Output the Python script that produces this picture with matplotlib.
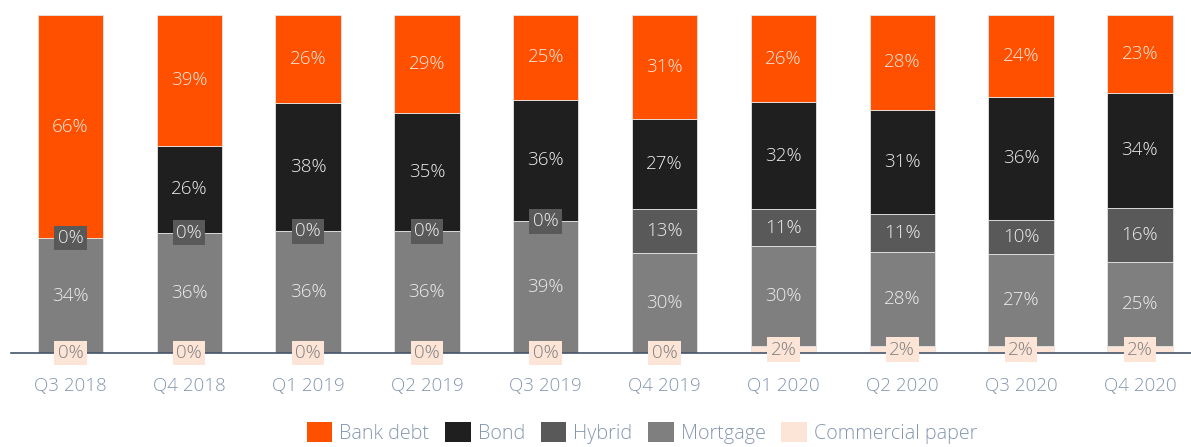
import matplotlib.pyplot as plt
from matplotlib.patches import Patch
import numpy as np

plt.rcParams['font.family'] = ['Open Sans', 'DejaVu Sans']

quarters = ['Q3 2018', 'Q4 2018', 'Q1 2019', 'Q2 2019', 'Q3 2019',
            'Q4 2019', 'Q1 2020', 'Q2 2020', 'Q3 2020', 'Q4 2020']
commercial_paper = [0, 0, 0, 0, 0, 0, 2, 2, 2, 2]
mortgage = [34, 36, 36, 36, 39, 30, 30, 28, 27, 25]
hybrid = [0, 0, 0, 0, 0, 13, 11, 11, 10, 16]
bond = [0, 26, 38, 35, 36, 27, 32, 31, 36, 34]
bank_debt = [66, 39, 26, 29, 25, 31, 26, 28, 24, 23]

series = [('Commercial paper', commercial_paper, '#fce4d6', '#7f7f7f'),
          ('Mortgage', mortgage, '#7f7f7f', '#eeeeee'),
          ('Hybrid', hybrid, '#595959', '#eeeeee'),
          ('Bond', bond, '#1f1f1f', '#eeeeee'),
          ('Bank debt', bank_debt, '#ff5000', '#fde9e0')]
label_z = {'Commercial paper': 6, 'Mortgage': 5, 'Hybrid': 8, 'Bond': 7, 'Bank debt': 5}

totals = np.sum([s[1] for s in series], axis=0)
x = np.arange(len(quarters))

fig = plt.figure(figsize=(11.91, 4.47), dpi=100)
ax = fig.add_axes([11 / 1191, 94 / 447, 1180 / 1191, 338 / 447])

bottom = np.zeros(len(quarters))
for name, vals, color, tcolor in series:
    h = np.array(vals) / totals * 100
    ax.bar(x, h, 0.55, bottom=bottom, color=color, edgecolor='#e6e6e6', linewidth=0.6)
    for xi, b, hi, v in zip(x, bottom, h, vals):
        ax.text(xi, b + hi / 2, '%d%%' % v, ha='center', va='center', fontsize=13.5,
                color=tcolor, fontweight='light', zorder=label_z[name],
                bbox=dict(boxstyle='square,pad=0.18', fc=color, ec='none'))
    bottom += h

ax.set_xlim(-0.5, 9.43)
ax.set_ylim(0, 100)
ax.set_xticks(x)
ax.set_xticklabels(quarters, fontsize=13.5, color='#8496b0', fontweight='light')
ax.tick_params(axis='x', length=0, pad=17)
ax.set_yticks([])
for side in ['top', 'right', 'left']:
    ax.spines[side].set_visible(False)
ax.spines['bottom'].set_color('#44546a')
ax.spines['bottom'].set_linewidth(1.2)
ax.spines['bottom'].set_zorder(4)

handles = [Patch(facecolor=s[2], label=s[0]) for s in reversed(series)]
leg = fig.legend(handles=handles, loc='center', bbox_to_anchor=(642 / 1191, 1 - 433 / 447),
                 ncol=5, frameon=False, fontsize=14.2, handlelength=1.3, handleheight=1.15,
                 handletextpad=0.35, columnspacing=0.8)
for t in leg.get_texts():
    t.set_color('#8496b0')
    t.set_fontweight('light')

fig.savefig('out.png', dpi=100)
